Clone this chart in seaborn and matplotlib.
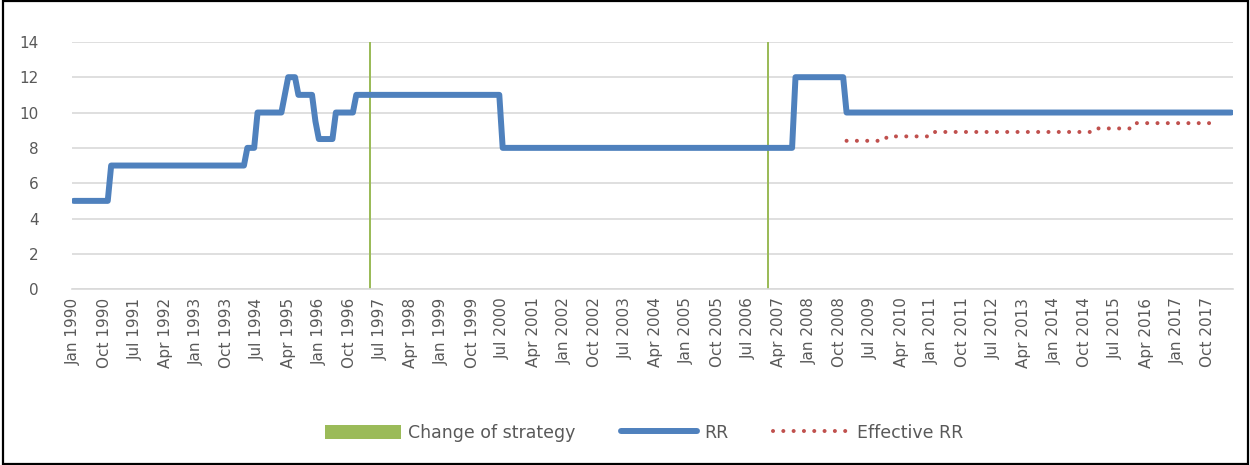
import matplotlib
matplotlib.use("Agg")
import matplotlib.pyplot as plt
from matplotlib.patches import Rectangle
import numpy as np
import pandas as pd
import seaborn as sns

# monthly axis, Jan 1990 - May 2018
start_month = "1990-01"
end_month = "2018-05"

# RR: month where a new level starts, and the level
rr_dates = ["1990-01", "1990-12", "1994-04", "1994-07", "1995-03", "1995-04",
            "1995-07", "1995-12", "1996-01", "1996-06", "1996-12", "2000-07",
            "2007-09", "2008-12"]
rr_levels = [5, 7, 8, 10, 11, 12, 11, 9.5, 8.5, 10, 11, 8, 12, 10]

# Effective RR, same idea, series ends Dec 2017
eff_dates = ["2008-12", "2009-12", "2011-02", "2015-01", "2016-01"]
eff_levels = [8.4, 8.65, 8.9, 9.1, 9.4]
eff_end = "2017-12"

# months with a change of strategy
strategy_dates = ["1997-04", "2007-01"]

yticks = [0, 2, 4, 6, 8, 10, 12, 14]

months = pd.period_range(start_month, end_month, freq="M")
pos = np.arange(len(months))

rr = pd.Series(np.nan, index=months)
rr[pd.PeriodIndex(rr_dates, freq="M")] = rr_levels
rr = rr.ffill()

eff = pd.Series(np.nan, index=months)
eff[pd.PeriodIndex(eff_dates, freq="M")] = eff_levels
eff = eff.ffill()
eff[months > pd.Period(eff_end, freq="M")] = np.nan

df = pd.DataFrame({"pos": pos, "RR": rr.values, "Effective RR": eff.values})
strat_pos = [months.get_loc(pd.Period(d, freq="M")) for d in strategy_dates]

sns.set_style("white")
plt.rcParams["font.family"] = ["DejaVu Sans"]

fig = plt.figure(figsize=(12.5, 4.65), dpi=100)
ax = fig.add_axes([0.0576, 0.378, 0.9288, 0.532])

ax.bar(strat_pos, [14] * len(strat_pos), width=0.45, color="#9BBB59",
       linewidth=0, label="Change of strategy", zorder=2)
sns.lineplot(data=df, x="pos", y="RR", ax=ax, color="#4F81BD", linewidth=4.3,
             label="RR", zorder=3, solid_joinstyle="round", solid_capstyle="round")
sns.lineplot(data=df, x="pos", y="Effective RR", ax=ax, color="#C0504D",
             linewidth=2.9, label="Effective RR", zorder=3,
             linestyle=(0, (0.01, 2.55)), dash_capstyle="round")

ax.set_xlim(-0.5, len(months) - 0.5)
ax.set_ylim(0, 14)
ax.set_yticks(yticks)
ax.set_yticklabels([str(v) for v in yticks], fontsize=11, color="#595959")
tick_pos = pos[::9]
ax.set_xticks(tick_pos)
ax.set_xticklabels([months[i].strftime("%b %Y") for i in tick_pos],
                   rotation=90, fontsize=11, color="#595959")
ax.tick_params(axis="y", length=0, pad=24)
ax.tick_params(axis="x", length=0, pad=6)
ax.set_xlabel("")
ax.set_ylabel("")
ax.grid(axis="y", color="#D9D9D9", linewidth=1.2)
ax.grid(axis="x", visible=False)
for s in ["top", "right", "left"]:
    ax.spines[s].set_visible(False)
ax.spines["bottom"].set_color("#D9D9D9")
ax.spines["bottom"].set_linewidth(1.2)

ax.legend_.remove()
handles, labels = ax.get_legend_handles_labels()
order = [labels.index(n) for n in ["Change of strategy", "RR", "Effective RR"]]
leg = fig.legend([handles[i] for i in order], [labels[i] for i in order],
                 loc="center", bbox_to_anchor=(0.515, 0.069),
                 ncol=3, frameon=False, handlelength=4.4, handleheight=0.9,
                 columnspacing=2.6, handletextpad=0.4,
                 prop={"family": ["DejaVu Sans"], "size": 12.5})
for t in leg.get_texts():
    t.set_color("#595959")

fig.patches.append(Rectangle((0.002, 0.003), 0.996, 0.994, transform=fig.transFigure,
                             fill=False, edgecolor="black", linewidth=1.6))

fig.savefig("out.png", dpi=100)
